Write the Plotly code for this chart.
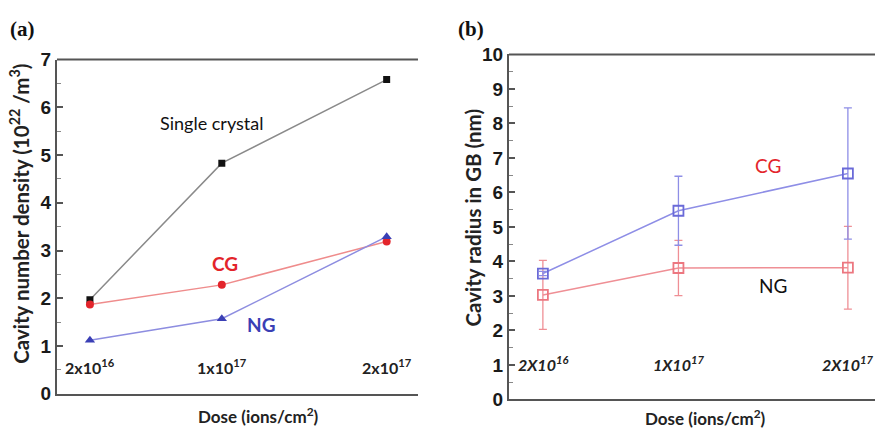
import plotly.graph_objects as go

# ---------------- data ----------------
dose = [0.2, 1.0, 2.0]  # in units of 1e17 ions/cm^2
dose_labels_a = ["2x10<sup>16</sup>", "1x10<sup>17</sup>", "2x10<sup>17</sup>"]
dose_labels_b = ["2X10<sup>16</sup>", "1X10<sup>17</sup>", "2X10<sup>17</sup>"]

density_single = [1.97, 4.83, 6.58]
density_cg = [1.87, 2.28, 3.19]
density_ng = [1.12, 1.57, 3.29]

radius_cg = [3.65, 5.47, 6.55]
radius_cg_err = [0.06, 1.0, 1.9]
radius_ng = [3.03, 3.81, 3.82]
radius_ng_err = [1.0, 0.8, 1.2]

# ---------------- figure ----------------
W, H = 875, 439
fig = go.Figure()

# panel (a)
fig.add_trace(go.Scatter(x=dose, y=density_single, mode="lines+markers",
                         line=dict(color="#8a8a8a", width=1.5),
                         marker=dict(symbol="square", size=7, color="#111111"),
                         xaxis="x", yaxis="y", showlegend=False))
fig.add_trace(go.Scatter(x=dose, y=density_cg, mode="lines+markers",
                         line=dict(color="#ef8c8c", width=1.5),
                         marker=dict(symbol="circle", size=8, color="#e3242b"),
                         xaxis="x", yaxis="y", showlegend=False))
fig.add_trace(go.Scatter(x=dose, y=density_ng, mode="lines+markers",
                         line=dict(color="#8d8de0", width=1.5),
                         marker=dict(symbol="triangle-up", size=9, color="#3a3fb5"),
                         xaxis="x", yaxis="y", showlegend=False))

# panel (b)
fig.add_trace(go.Scatter(x=dose, y=radius_ng, mode="lines+markers",
                         line=dict(color="#ef8f95", width=1.5),
                         marker=dict(symbol="square-open", size=10, color="#ec7780",
                                     line=dict(width=1.8)),
                         error_y=dict(type="data", array=radius_ng_err, visible=True,
                                      color="#ef8f95", thickness=1.3, width=4),
                         xaxis="x2", yaxis="y2", showlegend=False))
fig.add_trace(go.Scatter(x=dose, y=radius_cg, mode="lines+markers",
                         line=dict(color="#8e8ee6", width=1.5),
                         marker=dict(symbol="square-open", size=10, color="#6a6ad8",
                                     line=dict(width=1.8)),
                         error_y=dict(type="data", array=radius_cg_err, visible=True,
                                      color="#8e8ee6", thickness=1.3, width=4),
                         xaxis="x2", yaxis="y2", showlegend=False))

axis_col = "#555555"
tickfont = dict(family="Liberation Sans Narrow, Liberation Sans, Arial", size=19,
                color="#1a1a1a", weight="bold")
titlefont = dict(family="Lato, Open Sans", size=17, color="#222222")

common_y = dict(showline=True, linecolor=axis_col, linewidth=2, ticks="inside",
                ticklen=6, tickwidth=1.5, tickcolor=axis_col, showgrid=False,
                zeroline=False, tickfont=tickfont,
                minor=dict(ticks="inside", ticklen=4, tickwidth=1.2,
                           tickcolor="#888888", dtick=0.5))
common_x = dict(showline=True, linecolor=axis_col, linewidth=2, ticks="",
                showticklabels=False, showgrid=False, zeroline=False)

fig.update_layout(
    width=W, height=H, margin=dict(l=0, r=0, t=0, b=0),
    paper_bgcolor="white", plot_bgcolor="white",
    xaxis=dict(domain=[0.0651, 0.4777], range=[0, 2.19], **common_x),
    yaxis=dict(domain=[0.082, 0.8815], range=[0, 7], dtick=1, anchor="x", **common_y),
    xaxis2=dict(domain=[0.5817, 1.0], range=[0, 2.16], anchor="y2", **common_x),
    yaxis2=dict(domain=[0.0683, 0.8936], range=[0, 10], dtick=1, anchor="x2", **common_y),
)

# top border lines
fig.add_shape(type="line", xref="x domain", yref="y domain", x0=0, x1=1, y0=1, y1=1,
              line=dict(color=axis_col, width=2))
fig.add_shape(type="line", xref="x2 domain", yref="y2 domain", x0=0, x1=1, y0=1, y1=1,
              line=dict(color=axis_col, width=2))

ann = []
# x tick labels inside plots
for xv, lab in zip(dose, dose_labels_a):
    ann.append(dict(x=xv, y=0.56, xref="x", yref="y", text="<b>" + lab + "</b>",
                    showarrow=False, font=dict(family="Lato", size=16, color="#222222")))
for xv, lab in zip(dose, dose_labels_b):
    ann.append(dict(x=xv, y=1.03, xref="x2", yref="y2", text="<b><i>" + lab + "</i></b>",
                    showarrow=False, font=dict(family="Lato", size=16, color="#222222")))

# series labels
ann += [
    dict(x=0.94, y=5.67, xref="x", yref="y", text="Single crystal", showarrow=False,
         font=dict(family="Lato", size=18, color="#111111")),
    dict(x=1.02, y=2.73, xref="x", yref="y", text="<b>CG</b>", showarrow=False,
         font=dict(family="Lato", size=19, color="#e3242b")),
    dict(x=1.24, y=1.46, xref="x", yref="y", text="<b>NG</b>", showarrow=False,
         font=dict(family="Lato", size=19, color="#3a3fb5")),
    dict(x=1.53, y=6.77, xref="x2", yref="y2", text="CG", showarrow=False,
         font=dict(family="Lato", size=19, color="#e3242b")),
    dict(x=1.56, y=3.31, xref="x2", yref="y2", text="NG", showarrow=False,
         font=dict(family="Lato", size=19, color="#111111")),
]


def px(xp, yp, text, **kw):
    d = dict(x=xp / W, y=1 - yp / H, xref="paper", yref="paper", text=text,
             showarrow=False, xanchor="center", yanchor="middle")
    d.update(kw)
    return d


# axis titles and panel labels
ann += [
    px(20, 214, "<b>Cavity number density (10<sup>22</sup> /m<sup>3</sup>)</b>",
       textangle=-90, font=dict(family="Lato", size=20.5, color="#222222")),
    px(258, 426, "<b>Dose (ions/cm<sup>2</sup>)</b>", font=titlefont),
    px(473, 218, "<b>Cavity radius in GB (nm)</b>", textangle=-90,
       font=dict(family="Lato", size=20.5, color="#222222")),
    px(705, 428, "<b>Dose (ions/cm<sup>2</sup>)</b>", font=titlefont),
    px(22, 20, "<b>(a)</b>",
       font=dict(family="Liberation Serif, Times New Roman", size=21, color="#111111")),
    px(471, 20, "<b>(b)</b>",
       font=dict(family="Liberation Serif, Times New Roman", size=21, color="#111111")),
]

fig.update_layout(annotations=ann)
fig.write_html("out.html")
